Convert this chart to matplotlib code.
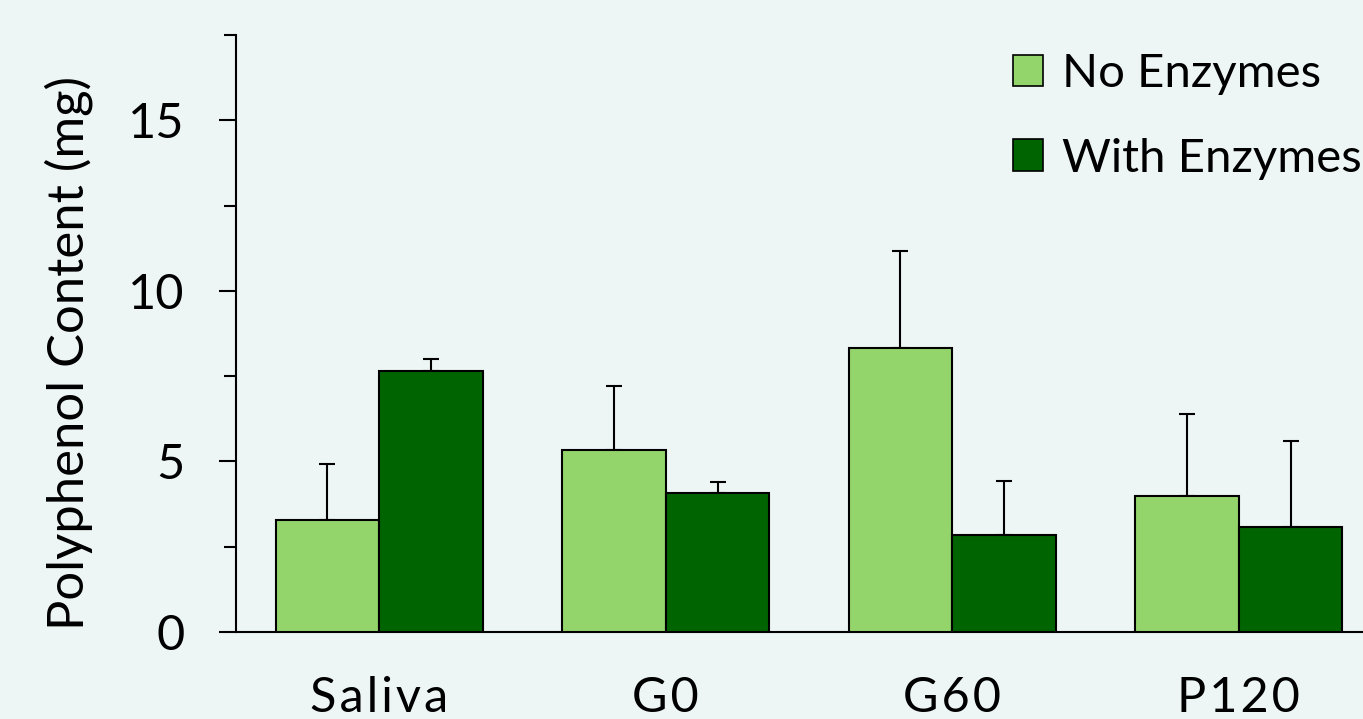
import numpy as np
import matplotlib
matplotlib.use("Agg")
import matplotlib.pyplot as plt
from matplotlib.patches import Patch
from matplotlib.ticker import MultipleLocator

# polyphenol content per sample (mg), with upper error bars
groups = ['Saliva', 'G0', 'G60', 'P120']
no_enz = [3.27, 5.33, 8.33, 3.99]
no_enz_err = [1.64, 1.89, 2.84, 2.41]
with_enz = [7.66, 4.06, 2.84, 3.07]
with_enz_err = [0.35, 0.33, 1.58, 2.54]

bg = '#EDF6F5'
light = '#93D56A'
dark = '#006400'

plt.rcParams['font.family'] = ['Lato', 'DejaVu Sans']


def spaced(s):
    # widen letter spacing with hair spaces
    return '\u200a'.join(s)


fig = plt.figure(figsize=(13.63, 7.19), dpi=100, facecolor=bg)
ax = fig.add_axes([236 / 1363, 1 - 632 / 719, (1382 - 236) / 1363, (632 - 35) / 719])
ax.set_facecolor(bg)

x = np.arange(len(groups))
w = 0.362
ax.bar(x - w / 2, no_enz, w, color=light, edgecolor='black', linewidth=1.5, zorder=3)
ax.bar(x + w / 2, with_enz, w, color=dark, edgecolor='black', linewidth=1.5, zorder=3)
ax.errorbar(x - w / 2, no_enz, yerr=[np.zeros(4), no_enz_err], fmt='none',
            ecolor='black', elinewidth=1.5, capsize=6, capthick=1.5, zorder=2)
ax.errorbar(x + w / 2, with_enz, yerr=[np.zeros(4), with_enz_err], fmt='none',
            ecolor='black', elinewidth=1.5, capsize=6, capthick=1.5, zorder=2)

ax.set_xlim(-0.5, 3.5)
ax.set_ylim(0, 17.5)
ax.yaxis.set_major_locator(MultipleLocator(5))
ax.yaxis.set_minor_locator(MultipleLocator(2.5))
ax.tick_params(axis='y', which='major', length=12, width=1.5, labelsize=35, pad=25)
ax.tick_params(axis='y', which='minor', length=9, width=1.5)
ax.set_xticks(x)
ax.set_xticklabels([spaced(g) for g in groups])
ax.tick_params(axis='x', length=0, labelsize=35, pad=32)

for s in ['top', 'right']:
    ax.spines[s].set_visible(False)
for s in ['left', 'bottom']:
    ax.spines[s].set_linewidth(1.5)

ax.set_ylabel('Polyphenol Content (mg)', fontsize=36.5)
ax.yaxis.set_label_coords(-0.125, 0.467)

handles = [Patch(facecolor=light, edgecolor='black', linewidth=1.2),
           Patch(facecolor=dark, edgecolor='black', linewidth=1.2)]
fig.legend(handles, ['No Enzymes', 'With Enzymes'], loc='upper left',
           bbox_to_anchor=(1013 / 1363, 1 - 53 / 719), frameon=False,
           fontsize=34, handlelength=0.64, handleheight=0.64,
           handletextpad=0.4, labelspacing=0.9, borderpad=0, borderaxespad=0)

fig.savefig('out.png', dpi=100, facecolor=bg)
